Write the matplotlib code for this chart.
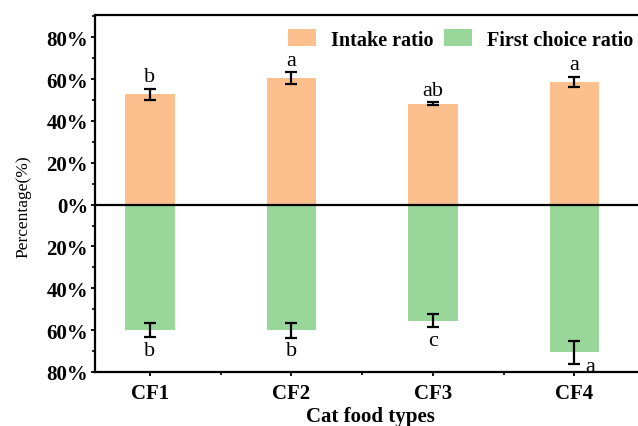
import matplotlib.pyplot as plt
import numpy as np
from matplotlib.ticker import MultipleLocator, FuncFormatter

plt.rcParams['font.family'] = ['Liberation Serif', 'DejaVu Serif']

foods = ["CF1", "CF2", "CF3", "CF4"]
intake = [52.8, 60.4, 48.3, 58.7]
intake_err = [2.6, 2.8, 0.7, 2.3]
intake_sig = ["b", "a", "ab", "a"]
first_choice = [60.0, 60.0, 55.5, 70.5]
first_err = [3.2, 3.6, 3.0, 5.5]
first_sig = ["b", "b", "c", "a"]

orange = "#FCC08F"
green = "#98D69A"

fig = plt.figure(figsize=(6.38, 4.27), dpi=100)
ax = fig.add_axes([95 / 638, 54 / 427, 550 / 638, 357 / 427])

x = np.arange(1, len(foods) + 1)
w = 0.35
neg = -np.array(first_choice)
ax.bar(x, intake, w, color=orange, label="Intake ratio", zorder=2)
ax.bar(x, neg, w, color=green, label="First choice ratio", zorder=2)
ax.errorbar(x, intake, yerr=intake_err, fmt="none", ecolor="black",
            elinewidth=1.6, capsize=4.5, capthick=1.6, zorder=3)
ax.errorbar(x, neg, yerr=first_err, fmt="none", ecolor="black",
            elinewidth=1.6, capsize=4.5, capthick=1.6, zorder=3)

# significance letters
for xi, v, e, s in zip(x, intake, intake_err, intake_sig):
    ax.text(xi, v + e + 1.2, s, ha="center", va="bottom", fontsize=16)
for i, (xi, v, e, s) in enumerate(zip(x, neg, first_err, first_sig)):
    if i == 3:
        # no room below the bar, so the letter sits beside the error bar
        ax.text(xi + 0.11, v - e - 3.3, s, ha="center", va="baseline", fontsize=16)
    else:
        ax.text(xi, v - e - 1.8, s, ha="center", va="top", fontsize=16)

ax.axhline(0, color="black", linewidth=1.6, zorder=4)

ax.set_xlim(0.611, 4.5)
ax.set_ylim(-80, 90.6)
ax.set_xticks(x)
ax.set_xticklabels(foods, fontweight="bold", fontsize=15)
ax.xaxis.set_minor_locator(plt.FixedLocator(x[:-1] + 0.5))
ax.set_yticks(np.arange(-80, 81, 20))
ax.yaxis.set_minor_locator(MultipleLocator(10))
ax.yaxis.set_major_formatter(FuncFormatter(lambda v, p: f"{abs(v):.0f}%"))
for lab in ax.get_yticklabels():
    lab.set_fontweight("bold")
    lab.set_fontsize(15)
ax.tick_params(axis="both", which="major", direction="out", length=3, width=1.3, pad=2)
ax.tick_params(axis="both", which="minor", direction="out", length=2.5, width=1.2)
ax.tick_params(axis="x", which="major", pad=5)
for sp in ax.spines.values():
    sp.set_linewidth(1.6)
ax.spines["right"].set_visible(False)

ax.set_xlabel("Cat food types", fontweight="bold", fontsize=15, labelpad=2)
ax.set_ylabel("Percentage(%)", fontsize=12.5)
ax.yaxis.set_label_coords(-0.115, 0.465)

ax.legend(loc="upper left", bbox_to_anchor=(0.325, 1.0), ncol=2, frameon=False,
          prop={"weight": "bold", "size": 14.5}, handlelength=1.4, handleheight=0.95,
          columnspacing=0.5, handletextpad=0.75, borderaxespad=0.3)

fig.savefig("out.png", dpi=100)
